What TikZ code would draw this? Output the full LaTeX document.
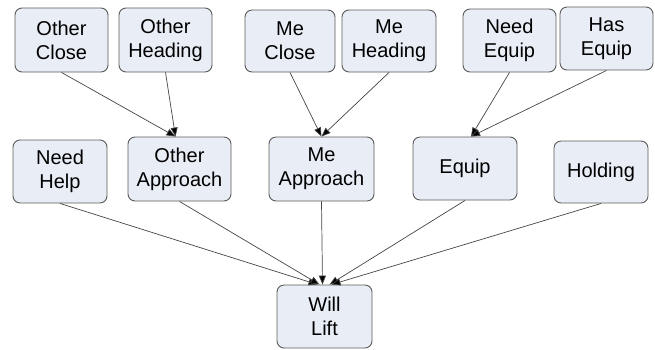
\documentclass[tikz,border=0pt]{standalone}
\usepackage{fontspec}
\setmainfont{Liberation Sans}
\usetikzlibrary{arrows.meta}
\definecolor{boxfill}{HTML}{E9EDF6}
\definecolor{boxline}{HTML}{5A5A5A}
\definecolor{edgecol}{HTML}{454545}
\begin{document}
\begin{tikzpicture}[x=1pt,y=-1pt,
  stbox/.style={draw=boxline, fill=boxfill, line width=0.9pt, rounded corners=7pt,
    align=center, inner sep=0pt, font=\fontsize{20}{24}\selectfont},
  conn/.style={draw=edgecol, line width=0.7pt, -{Triangle[length=9pt,width=7pt,fill=black]}}]
\useasboundingbox (0,0) rectangle (655,349);
% top row
\node[stbox, minimum width=93pt, minimum height=64pt] (oc) at (61.5,40) {Other\\Close};
\node[stbox, minimum width=93pt, minimum height=64pt] (oh) at (165.5,40) {Other\\Heading};
\node[stbox, minimum width=90pt, minimum height=62pt] (mc) at (290,41) {Me\\Close};
\node[stbox, minimum width=94pt, minimum height=62pt] (mh) at (389,41) {Me\\Heading};
\node[stbox, minimum width=93pt, minimum height=63pt] (ne) at (509.5,40.5) {Need\\Equip};
\node[stbox, minimum width=93pt, minimum height=63pt] (he) at (606.5,38.5) {Has\\Equip};
% middle row
\node[stbox, minimum width=94pt, minimum height=63pt] (nh) at (60,171.5) {Need\\Help};
\node[stbox, minimum width=103pt, minimum height=64pt] (oa) at (179.5,169) {Other\\Approach};
\node[stbox, minimum width=105pt, minimum height=64pt] (ma) at (321.5,169) {Me\\Approach};
\node[stbox, minimum width=104pt, minimum height=63pt] (eq) at (465,168.5) {Equip};
\node[stbox, minimum width=94pt, minimum height=62pt] (ho) at (601,172) {Holding};
% bottom
\node[stbox, minimum width=95pt, minimum height=63pt] (wl) at (324.5,316.5) {Will\\Lift};
% connectors
\draw[conn] (oc.south) -- ([xshift=-4pt]oa.north);
\draw[conn] (oh.south) -- ([xshift=-4pt]oa.north);
\draw[conn] (mc.south) -- (ma.north);
\draw[conn] (mh.south) -- (ma.north);
\draw[conn] (ne.south) -- ([xshift=6pt]eq.north);
\draw[conn] (he.south) -- ([xshift=6pt]eq.north);
\draw[conn] (nh.south) -- ([xshift=-7pt]wl.north);
\draw[conn] (oa.south) -- ([xshift=-5pt]wl.north);
\draw[conn] (ma.south) -- ([xshift=-2pt]wl.north);
\draw[conn] (eq.south) -- ([xshift=5pt]wl.north);
\draw[conn] (ho.south) -- ([xshift=7pt]wl.north);
\end{tikzpicture}
\end{document}
